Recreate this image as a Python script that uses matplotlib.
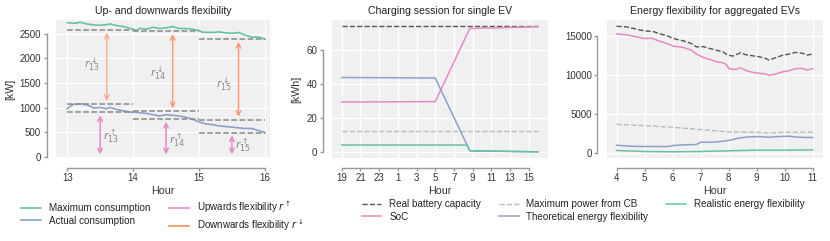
import matplotlib
matplotlib.use('Agg')
import matplotlib.pyplot as plt

plt.rcParams['font.family'] = ['Liberation Sans', 'DejaVu Sans']
plt.rcParams['mathtext.fontset'] = 'dejavusans'

GREEN = '#66c2a5'
ORANGE = '#fc8d62'
BLUE = '#8da0cb'
PINK = '#e78ac3'
BG = '#f0f0f0'

# Panel 1: up- and downwards flexibility (kW)
max_cons_t = [13.0, 13.1, 13.2, 13.3, 13.4, 13.5, 13.6, 13.65, 13.75, 13.85, 13.95, 14.0,
              14.05, 14.1, 14.2, 14.3, 14.4, 14.5, 14.6, 14.7, 14.8, 14.9, 15.0, 15.05,
              15.2, 15.3, 15.45, 15.55, 15.6, 15.7, 15.8, 15.9, 16.0]
max_cons = [2727, 2713, 2733, 2700, 2680, 2673, 2687, 2700, 2667, 2647, 2613, 2593,
            2567, 2613, 2593, 2633, 2607, 2620, 2647, 2607, 2607, 2593, 2567, 2533,
            2527, 2540, 2513, 2513, 2527, 2473, 2433, 2433, 2393]
act_cons_t = [13.0, 13.05, 13.1, 13.2, 13.3, 13.35, 13.4, 13.5, 13.6, 13.65, 13.75, 13.85,
              13.95, 14.0, 14.1, 14.2, 14.3, 14.4, 14.5, 14.6, 14.7, 14.8, 14.9, 15.0,
              15.1, 15.2, 15.3, 15.4, 15.5, 15.6, 15.7, 15.8, 15.9, 16.0]
act_cons = [980, 1033, 1073, 1080, 1060, 1033, 993, 1007, 980, 1007, 967, 940,
            913, 913, 900, 887, 860, 833, 860, 847, 833, 807, 767, 713,
            673, 660, 633, 620, 607, 593, 580, 580, 540, 500]
hours = [13, 14, 15]
hour_max_min = [2580, 2553, 2393]   # min of max consumption per hour
hour_act_max = [1080, 934, 760]     # max of actual consumption per hour
hour_act_min = [907, 773, 498]      # min of actual consumption per hour
down_alpha = [0.6, 0.85, 0.85]
down_lbl_y = [1880, 1713, 1480]
up_lbl_y = [413, 347, 247]

# Panel 2: charging session for single EV (kWh)
ev_capacity = 73.8
ev_cb_power = 12.3
ev_ticks = [19, 21, 23, 25, 27, 29, 31, 33, 35, 37, 39]
ev_ticklabels = ['19', '21', '23', '1', '3', '5', '7', '9', '11', '13', '15']
soc_t = [19, 29, 32.7, 40]
soc = [29.3, 29.5, 72.5, 73.5]
theo_t = [19, 29, 32.7, 40]
theo = [43.7, 43.4, 0.6, 0.0]
real_t = [19, 32.4, 32.7, 40]
real = [4.0, 4.0, 0.6, 0.0]

# Panel 3: aggregated EVs
cap_t = [4.0, 4.38, 4.73, 5.0, 5.32, 5.5, 5.79, 6.03, 6.38, 6.67, 6.85, 7.0, 7.09, 7.32,
         7.56, 7.79, 7.97, 8.15, 8.26, 8.42, 8.62, 8.85, 9.09, 9.32, 9.44, 9.68, 9.91,
         10.15, 10.38, 10.62, 10.8, 11.0]
cap = [16234, 16150, 15850, 15640, 15555, 15300, 15045, 14660, 14365, 14025, 13600, 13557,
       13640, 13390, 13175, 12960, 12540, 12410, 12580, 12835, 12580, 12450, 12325, 12110,
       11900, 12200, 12495, 12665, 12880, 12790, 12540, 12665]
agg_soc_t = [4.0, 4.38, 4.73, 5.0, 5.26, 5.5, 5.79, 6.03, 6.38, 6.67, 6.85, 7.09, 7.32,
             7.56, 7.79, 7.91, 8.0, 8.15, 8.26, 8.42, 8.62, 8.85, 9.09, 9.32, 9.44, 9.68,
             9.91, 10.15, 10.38, 10.62, 10.8, 11.0]
agg_soc = [15257, 15130, 14875, 14660, 14700, 14365, 14025, 13685, 13515, 13175, 12665,
           12240, 11985, 11690, 11560, 11350, 10840, 10710, 10710, 10920, 10540, 10330,
           10200, 10115, 9945, 10115, 10370, 10540, 10795, 10840, 10625, 10795]
cb_t = [4.0, 5.0, 6.03, 7.0, 8.0, 8.97, 9.44, 10.03, 11.0]
cb = [3655, 3485, 3270, 2975, 2680, 2635, 2550, 2635, 2635]
agg_theo_t = [4.0, 4.5, 5.0, 5.55, 5.83, 6.03, 6.38, 6.85, 7.0, 7.32, 7.56, 7.91, 8.15,
              8.38, 8.73, 9.09, 9.44, 9.8, 10.15, 10.5, 11.0]
agg_theo = [977, 850, 807, 807, 807, 935, 1020, 1062, 1360, 1360, 1400, 1530, 1700,
            1912, 2040, 2083, 2000, 2083, 2125, 2000, 1955]
agg_real_t = [4.0, 5.0, 6.03, 7.0, 8.0, 8.97, 10.03, 11.0]
agg_real = [297, 170, 127, 170, 255, 340, 340, 382]

TICK_FS = 7
LABEL_FS = 7.7
TITLE_FS = 7.6
LEG_FS = 7.1


def style_axes(ax, xb, yb):
    ax.set_facecolor(BG)
    ax.grid(True, color='white', lw=1.0)
    ax.set_axisbelow(True)
    for s in ['top', 'right']:
        ax.spines[s].set_visible(False)
    for s in ['left', 'bottom']:
        ax.spines[s].set_color('#999999')
        ax.spines[s].set_linewidth(1.0)
        ax.spines[s].set_position(('outward', 6.8))
    ax.spines['bottom'].set_bounds(*xb)
    ax.spines['left'].set_bounds(*yb)
    ax.tick_params(colors='#999999', labelcolor='#333333', labelsize=TICK_FS,
                   length=2.4, width=1, pad=1.5)
    ax.xaxis.label.set_color('#333333')
    ax.yaxis.label.set_color('#333333')


fig = plt.figure(figsize=(8.3, 2.41), dpi=100)
ax1 = fig.add_axes([0.0675, 0.344, 0.258, 0.573])
ax2 = fig.add_axes([0.400, 0.344, 0.260, 0.573])
ax3 = fig.add_axes([0.731, 0.344, 0.260, 0.573])

# --- panel 1
ax1.plot(max_cons_t, max_cons, color=GREEN, lw=1.2, label='Maximum consumption')
ax1.plot(act_cons_t, act_cons, color=BLUE, lw=1.2, label='Actual consumption')
for i, h in enumerate(hours):
    for v in (hour_max_min[i], hour_act_max[i], hour_act_min[i]):
        ax1.plot([h, h + 1], [v, v], color='#888888', ls='--', lw=1.1)
    ax1.annotate('', xy=(h + 0.6, hour_act_max[i]), xytext=(h + 0.6, hour_max_min[i]),
                 arrowprops=dict(arrowstyle='<->', color=ORANGE, alpha=down_alpha[i], lw=1.1,
                                 mutation_scale=8))
    ax1.annotate('', xy=(h + 0.5, 0), xytext=(h + 0.5, hour_act_min[i]),
                 arrowprops=dict(arrowstyle='<->', color=PINK, lw=1.1, mutation_scale=8))
    ax1.text(h + 0.38, down_lbl_y[i], r'$r^{\downarrow}_{%d}$' % h, color='#888888',
             fontsize=8, ha='center', va='center')
    ax1.text(h + 0.67, up_lbl_y[i], r'$r^{\uparrow}_{%d}$' % h, color='#888888',
             fontsize=8, ha='center', va='center')
ax1.plot([], [], color=PINK, lw=1.2, label=r'Upwards flexibility $r^{\uparrow}$')
ax1.plot([], [], color=ORANGE, lw=1.2, label=r'Downwards flexibility $r^{\downarrow}$')
ax1.set_xlim(12.83, 16.08)
ax1.set_ylim(-20, 2780)
ax1.set_xticks([13, 14, 15, 16])
ax1.set_yticks([0, 500, 1000, 1500, 2000, 2500])
ax1.set_xlabel('Hour', fontsize=LABEL_FS, labelpad=2)
ax1.set_ylabel('[kW]', fontsize=LABEL_FS, labelpad=3.5)
ax1.set_title('Up- and downwards flexibility', fontsize=TITLE_FS, color='#222222', pad=4)
style_axes(ax1, (13, 16), (0, 2500))

# --- panel 2
ax2.plot([19, 40], [ev_capacity, ev_capacity], color='#555555', ls='--', lw=1.0,
         label='Real battery capacity')
ax2.plot(soc_t, soc, color=PINK, lw=1.1, label='SoC')
ax2.plot([19, 40], [ev_cb_power, ev_cb_power], color='#bbbbbb', ls='--', lw=1.0,
         label='Maximum power from CB')
ax2.plot(theo_t, theo, color=BLUE, lw=1.1, label='Theoretical energy flexibility')
ax2.plot(real_t, real, color=GREEN, lw=1.1, label='Realistic energy flexibility')
ax2.set_xticks(ev_ticks)
ax2.set_xticklabels(ev_ticklabels)
ax2.set_yticks([0, 20, 40, 60])
ax2.set_xlabel('Hour', fontsize=LABEL_FS, labelpad=2)
ax2.set_ylabel('[kWh]', fontsize=LABEL_FS, labelpad=3.5)
ax2.set_title('Charging session for single EV', fontsize=TITLE_FS, color='#222222', pad=4)
style_axes(ax2, (19, 39), (0, 60))

# --- panel 3
ax3.plot(cap_t, cap, color='#555555', ls='--', lw=1.0)
ax3.plot(agg_soc_t, agg_soc, color=PINK, lw=1.1)
ax3.plot(cb_t, cb, color='#bbbbbb', ls='--', lw=1.0)
ax3.plot(agg_theo_t, agg_theo, color=BLUE, lw=1.1)
ax3.plot(agg_real_t, agg_real, color=GREEN, lw=1.1)
ax3.set_xticks(range(4, 12))
ax3.set_yticks([0, 5000, 10000, 15000])
ax3.set_xlabel('Hour', fontsize=LABEL_FS, labelpad=2)
ax3.set_title('Energy flexibility for aggregated EVs', fontsize=TITLE_FS, color='#222222', pad=4)
style_axes(ax3, (4, 11), (0, 15000))

leg1 = fig.legend(*ax1.get_legend_handles_labels(), loc='upper left',
                  bbox_to_anchor=(0.015, 0.21), ncol=2, frameon=False, fontsize=LEG_FS,
                  handlelength=2.0, columnspacing=1.9, labelspacing=0.25)
leg2 = fig.legend(*ax2.get_legend_handles_labels(), loc='upper left',
                  bbox_to_anchor=(0.425, 0.21), ncol=3, frameon=False, fontsize=LEG_FS,
                  handlelength=2.0, columnspacing=1.8, labelspacing=0.25)
for leg in (leg1, leg2):
    for t in leg.get_texts():
        t.set_color('#222222')

fig.savefig('out.png', dpi=100)
